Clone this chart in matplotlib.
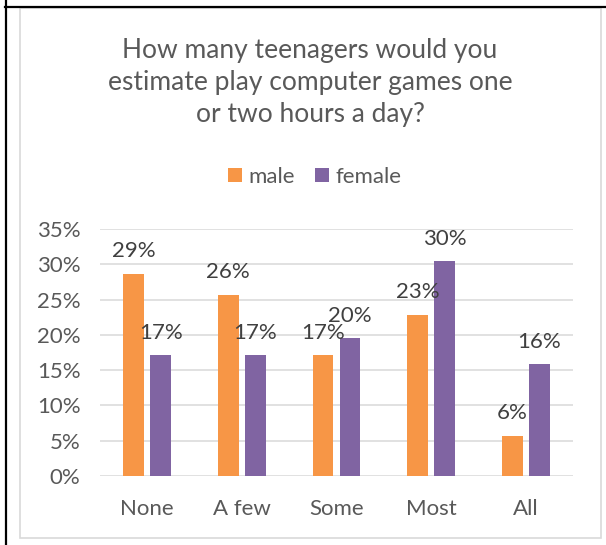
import matplotlib.pyplot as plt
import numpy as np
from matplotlib.lines import Line2D
from matplotlib.patches import Rectangle

categories = ["None", "A few", "Some", "Most", "All"]
male = [0.286, 0.257, 0.171, 0.228, 0.057]
female = [0.171, 0.171, 0.195, 0.304, 0.158]
series_names = ["male", "female"]
title = "How many teenagers would you\nestimate play computer games one\nor two hours a day?"

orange = "#F79646"
purple = "#8064A2"
text_col = "#595959"
label_col = "#404040"
grid_col = "#D9D9D9"

plt.rcParams['font.family'] = ['Lato', 'DejaVu Sans']

W, H = 606, 545
fig = plt.figure(figsize=(W / 100, H / 100), dpi=100)

def fx(px):
    return px / W

def fy(py):
    return 1 - py / H

# outer black lines and grey chart border
fig.add_artist(Line2D([fx(6), fx(6)], [0, 1], color="black", lw=1.6))
fig.add_artist(Line2D([fx(5), 1], [fy(6.5), fy(6.5)], color="black", lw=1.6))
fig.add_artist(Rectangle((fx(19.5), fy(537.5)), fx(601) - fx(19.5), fy(8) - fy(537.5),
                         fill=False, edgecolor=grid_col, lw=1.2))

ax = fig.add_axes([fx(100), fy(476), fx(573) - fx(100), fy(229) - fy(476)])

x = np.arange(len(categories))
w = 0.22
off = 0.143
b1 = ax.bar(x - off, male, w, color=orange, label=series_names[0], zorder=3)
b2 = ax.bar(x + off, female, w, color=purple, label=series_names[1], zorder=3)

for bars in (b1, b2):
    for rect in bars:
        v = rect.get_height()
        ax.annotate(f"{v * 100:.0f}%", (rect.get_x() + rect.get_width() / 2, v),
                    xytext=(0, 12), textcoords="offset points",
                    ha="center", va="baseline", fontsize=16, color=label_col)

ax.set_xlim(-0.5, len(categories) - 0.5)
ax.set_ylim(0, 0.35)
ax.set_yticks(np.arange(0, 0.351, 0.05))
ax.set_yticklabels([f"{t * 100:.0f}%" for t in np.arange(0, 0.351, 0.05)])
ax.set_xticks(x)
ax.set_xticklabels(categories)
ax.tick_params(axis="y", length=0, pad=14, labelsize=16, labelcolor=text_col)
ax.tick_params(axis="x", length=0, pad=16.5, labelsize=16, labelcolor=text_col)
ax.grid(axis="y", color=grid_col, lw=1.1, zorder=0)
for s in ax.spines.values():
    s.set_visible(False)

fig.text(fx(310), fy(82.5), title, ha="center", va="center", multialignment="center",
         fontsize=19, color=text_col, linespacing=1.37)

fig.legend(handles=[b1, b2], labels=series_names, loc="center",
           bbox_to_anchor=(fx(315), fy(177)), ncol=2, frameon=False,
           fontsize=16, labelcolor=text_col, handlelength=0.63, handleheight=0.63,
           handletextpad=0.3, columnspacing=0.9)

fig.savefig("out.png", dpi=100)
